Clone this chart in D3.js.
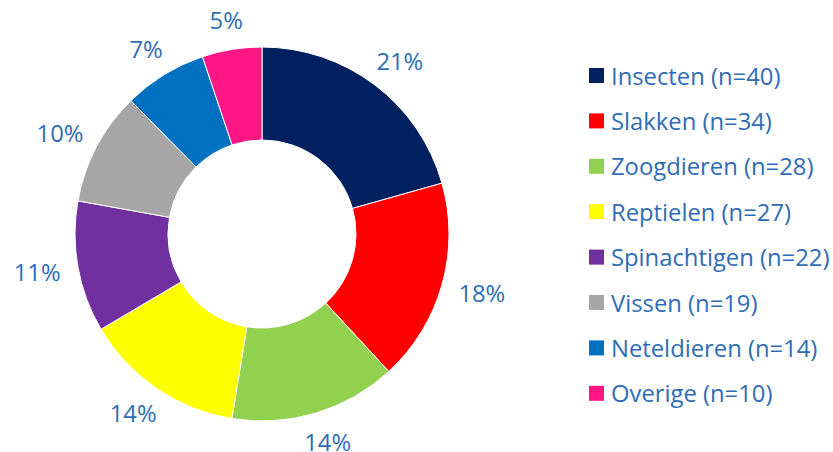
<!DOCTYPE html>
<html lang="en">
<head>
    <meta charset="UTF-8">
    <title>Donut</title>
    <script src="https://cdnjs.cloudflare.com/ajax/libs/d3/7.8.5/d3.min.js"></script>
    <style>
        body { margin: 0; background: #fff; }
        text { font-family: "Open Sans", sans-serif; }
    </style>
</head>
<body>
    <script>
        const categories = ['Insecten', 'Slakken', 'Zoogdieren', 'Reptielen', 'Spinachtigen', 'Vissen', 'Neteldieren', 'Overige'];
        const counts = [40, 34, 28, 27, 22, 19, 14, 10];
        const colors = ['#002060', '#ff0000', '#92d050', '#ffff00', '#7030a0', '#a6a6a6', '#0070c0', '#ff1685'];

        const w = 833;
        const h = 452;
        const cx = 262, cy = 234;
        const outerR = 187, innerR = 94, labelBase = 205;
        const textColor = '#2e6db5';
        const fontSize = 23.8;

        const total = d3.sum(counts);
        const data = categories.map((c, i) => ({ name: c, n: counts[i], color: colors[i] }));

        const svg = d3.select('body')
            .append('svg')
            .attr('width', w)
            .attr('height', h);

        const pie = d3.pie().value(d => d.n).sort(null);
        const arc = d3.arc().innerRadius(innerR).outerRadius(outerR);

        const g = svg.append('g').attr('transform', `translate(${cx},${cy})`);

        g.selectAll('path')
            .data(pie(data))
            .enter()
            .append('path')
            .attr('d', arc)
            .attr('fill', d => d.data.color)
            .attr('stroke', '#fff')
            .attr('stroke-width', 1);

        // labels outside the ring, pushed out by half their box
        const labels = g.selectAll('text')
            .data(pie(data))
            .enter()
            .append('text')
            .attr('text-anchor', 'middle')
            .attr('dominant-baseline', 'central')
            .attr('font-size', fontSize)
            .attr('fill', textColor)
            .text(d => Math.round(d.data.n / total * 100) + '%');

        labels.attr('transform', function (d) {
            const a = (d.startAngle + d.endAngle) / 2;
            const bw = this.getBBox().width;
            const bh = 24;
            const x = Math.sin(a) * labelBase + Math.sin(a) * bw / 2;
            const y = -Math.cos(a) * labelBase - Math.cos(a) * bh / 2;
            return `translate(${x},${y})`;
        });

        // legend
        const legend = svg.append('g').attr('transform', 'translate(589, 75.5)');
        const row = legend.selectAll('g')
            .data(data)
            .enter()
            .append('g')
            .attr('transform', (d, i) => `translate(0, ${i * 45.4})`);

        row.append('rect')
            .attr('x', 0)
            .attr('y', -7.5)
            .attr('width', 15)
            .attr('height', 15)
            .attr('fill', d => d.color);

        row.append('text')
            .attr('x', 22)
            .attr('y', 0)
            .attr('dominant-baseline', 'central')
            .attr('font-size', fontSize)
            .attr('fill', textColor)
            .text(d => `${d.name} (n=${d.n})`);
    </script>
</body>
</html>
